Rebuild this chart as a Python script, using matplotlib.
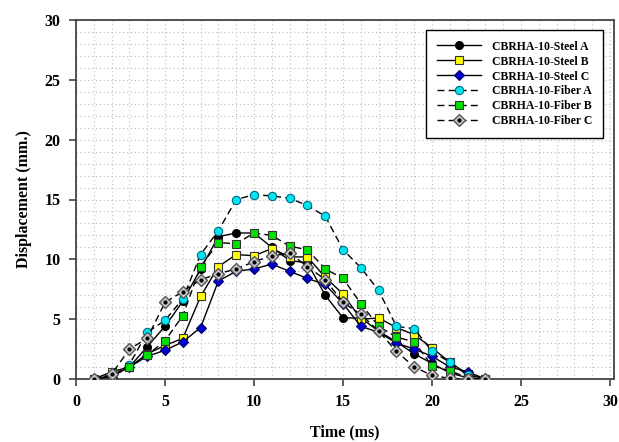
import matplotlib
matplotlib.use("Agg")
import matplotlib.pyplot as plt
from matplotlib.legend_handler import HandlerTuple
from matplotlib.ticker import MultipleLocator

time_ms = list(range(1, 24))

steel_a = [0, 0.3, 1.0, 2.7, 4.4, 6.5, 9.2, 11.9, 12.2, 12.2, 11.0, 9.9, 9.7, 7.0, 5.1, 5.1, 4.0, 3.1, 2.1, 1.3, 0.5, 0.1, 0]
steel_b = [0, 0.6, 1.0, 2.1, 2.8, 3.4, 6.9, 9.4, 10.4, 10.3, 10.9, 10.2, 10.2, 8.5, 7.1, 5.0, 5.1, 4.3, 3.7, 2.6, 1.4, 0.4, 0]
steel_c = [0, 0.2, 1.0, 1.9, 2.4, 3.1, 4.3, 8.2, 9.0, 9.2, 9.6, 9.0, 8.4, 7.9, 6.3, 4.4, 3.9, 3.0, 2.5, 1.9, 1.0, 0.6, 0]
fiber_a = [0, 0.2, 1.2, 3.9, 4.9, 6.7, 10.4, 12.4, 15.0, 15.4, 15.3, 15.1, 14.5, 13.6, 10.8, 9.3, 7.4, 4.4, 4.2, 2.3, 1.4, 0.3, 0]
fiber_b = [0, 0.2, 1.0, 2.0, 3.2, 5.3, 9.4, 11.4, 11.3, 12.2, 12.0, 11.1, 10.8, 9.2, 8.4, 6.3, 4.4, 3.5, 3.1, 1.1, 0.7, 0.1, 0]
fiber_c = [0, 0.4, 2.5, 3.4, 6.4, 7.3, 8.3, 8.8, 9.2, 9.8, 10.3, 10.5, 9.4, 8.3, 6.4, 5.4, 4.0, 2.3, 1.0, 0.3, 0.05, 0, 0]

labels = ["CBRHA-10-Steel A", "CBRHA-10-Steel B", "CBRHA-10-Steel C",
          "CBRHA-10-Fiber A", "CBRHA-10-Fiber B", "CBRHA-10-Fiber C"]

x_ticks = [0, 5, 10, 15, 20, 25, 30]
y_ticks = [0, 5, 10, 15, 20, 25, 30]

plt.rcParams['font.family'] = ['Liberation Serif', 'DejaVu Serif']

fig = plt.figure(figsize=(6.19, 4.42), dpi=100)
ax_l, ax_r, ax_t, ax_b = 76, 614, 20, 379
ax = fig.add_axes([ax_l/619, 1-ax_b/442, (ax_r-ax_l)/619, (ax_b-ax_t)/442])

dash = (0, (5, 3))
h = []
h.append(ax.plot(time_ms, steel_a, '-', color='black', lw=1, marker='o', ms=5.5,
                 mfc='black', mec='black', zorder=5)[0])
h.append(ax.plot(time_ms, steel_b, '-', color='black', lw=1, marker='s', ms=6,
                 mfc='#ffff00', mec='#333333', mew=0.8, zorder=5)[0])
h.append(ax.plot(time_ms, steel_c, '-', color='black', lw=1, marker='D', ms=5.5,
                 mfc='#0000cc', mec='#000066', mew=0.8, zorder=5)[0])
h.append(ax.plot(time_ms, fiber_a, linestyle=dash, color='black', lw=1, marker='o', ms=6,
                 mfc='#00e5f0', mec='#006a80', mew=0.8, zorder=5)[0])
h.append(ax.plot(time_ms, fiber_b, linestyle=dash, color='black', lw=1, marker='s', ms=6,
                 mfc='#00e000', mec='#333333', mew=0.8, zorder=5)[0])
lc = ax.plot(time_ms, fiber_c, linestyle=dash, color='black', lw=1, marker='D', ms=6,
             mfc='#c8c8c8', mec='#555555', mew=1.0, zorder=5)[0]
dots = ax.plot(time_ms, fiber_c, linestyle='none', marker='o', ms=2, color='black', zorder=6)[0]
h.append((lc, dots))

ax.set_xlim(0, 30.22)
ax.set_ylim(0, 30)
ax.set_xticks(x_ticks)
ax.set_yticks(y_ticks)
ax.xaxis.set_minor_locator(MultipleLocator(1))
ax.yaxis.set_minor_locator(MultipleLocator(1))
ax.grid(which='both', color='#bdbdbd', linestyle=(0, (1, 2.5)), linewidth=0.8)
ax.set_axisbelow(True)
ax.tick_params(which='minor', length=0)
ax.tick_params(which='major', direction='out', length=5, width=1.2, color='#444444',
               labelsize=11.5, pad=6)
for lab in ax.get_xticklabels() + ax.get_yticklabels():
    lab.set_fontweight('bold')
for s in ax.spines.values():
    s.set_color('#444444')
    s.set_linewidth(1.3)

ax.set_xlabel('Time (ms)', fontsize=11.5, fontweight='bold', labelpad=10)
ax.set_ylabel('Displacement (mm.)', fontsize=11.5, fontweight='bold', labelpad=9)

leg_right = (603 - ax_l) / (ax_r - ax_l)
leg_top = 1 - (30 - ax_t) / (ax_b - ax_t)
leg = ax.legend(h, labels, loc='upper right', bbox_to_anchor=(leg_right, leg_top),
                bbox_transform=ax.transAxes, handler_map={tuple: HandlerTuple(ndivide=1)},
                prop={'weight': 'bold', 'size': 8.5}, frameon=True, fancybox=False,
                edgecolor='black', framealpha=1, handlelength=3.8, borderpad=0.9,
                labelspacing=0.25, handletextpad=0.9, borderaxespad=0)
leg.get_frame().set_linewidth(1.0)
leg.set_zorder(10)

fig.savefig('out.png', dpi=100)
